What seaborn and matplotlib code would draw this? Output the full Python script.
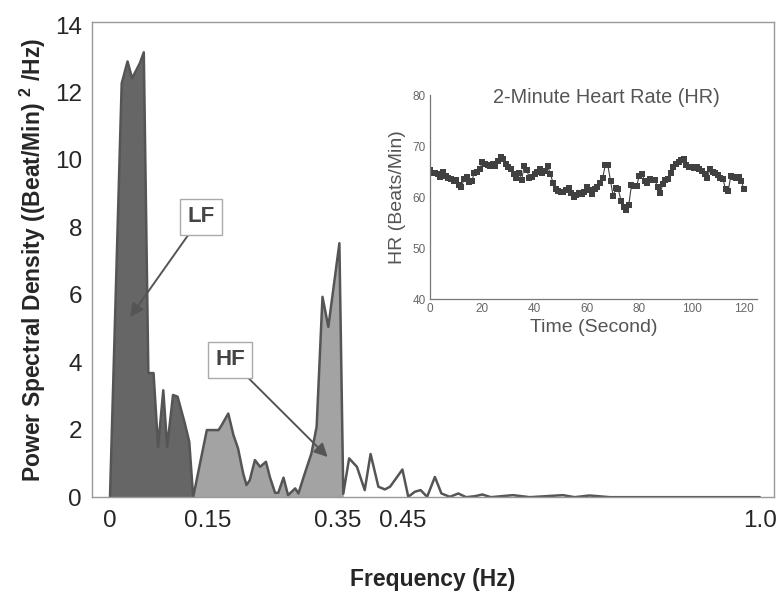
import numpy as np
import pandas as pd
import matplotlib
matplotlib.use("Agg")
import matplotlib.pyplot as plt
from matplotlib.ticker import MultipleLocator
import seaborn as sns

# 功率谱
freq_hz = [0.000, 0.018, 0.027, 0.034, 0.046, 0.052, 0.059, 0.067, 0.074, 0.082,
           0.088, 0.097, 0.104, 0.115, 0.122, 0.128,
           0.149, 0.167, 0.172, 0.182, 0.190, 0.197, 0.205, 0.210, 0.215, 0.223,
           0.231, 0.240, 0.246, 0.254, 0.259, 0.267, 0.274, 0.285, 0.290, 0.298,
           0.310, 0.318, 0.327, 0.336, 0.353, 0.359,
           0.368, 0.380, 0.392, 0.401, 0.413, 0.423, 0.431, 0.450, 0.459, 0.469,
           0.478, 0.488, 0.500, 0.510, 0.523, 0.536, 0.548, 0.562, 0.573, 0.586,
           0.620, 0.646, 0.697, 0.715, 0.738, 0.769, 1.000]
psd = [0.0, 12.27, 12.92, 12.42, 12.87, 13.19, 3.68, 3.68, 1.49, 3.17,
       1.49, 3.03, 2.98, 2.20, 1.64, 0.0,
       1.99, 1.99, 2.14, 2.48, 1.84, 1.45, 0.70, 0.36, 0.50, 1.10,
       0.90, 1.05, 0.60, 0.13, 0.13, 0.58, 0.06, 0.26, 0.11, 0.60,
       1.30, 2.09, 5.94, 5.05, 7.53, 0.10,
       1.15, 0.90, 0.21, 1.28, 0.31, 0.23, 0.31, 0.82, 0.01, 0.16,
       0.21, 0.01, 0.60, 0.11, 0.01, 0.11, 0.0, 0.03, 0.08, 0.0,
       0.06, 0.0, 0.06, 0.0, 0.05, 0.0, 0.0]
lf_edge = 0.128
hf_edge = 0.359

freq_ticks = [0, 0.15, 0.35, 0.45, 1.0]
freq_tick_labels = ["0", "0.15", "0.35", "0.45", "1.0"]

# 2分钟心率
hr_time = list(range(121))
hr_bpm = [65.3, 64.8, 64.7, 64.5, 64.0, 65.0, 64.2, 63.8, 63.5, 63.2,
          63.3, 62.3, 62.0, 63.5, 64.0, 63.0, 63.2, 64.8, 65.0, 65.5,
          66.8, 66.5, 66.3, 66.0, 66.5, 66.0, 67.0, 67.8, 67.5, 66.5,
          65.8, 65.5, 64.5, 63.8, 64.8, 63.3, 66.0, 65.3, 63.7, 64.0,
          64.5, 65.0, 65.5, 64.8, 65.2, 66.0, 64.6, 62.8, 61.5, 61.2,
          61.0, 61.0, 61.3, 61.8, 60.8, 60.0, 60.3, 60.8, 60.6, 61.0,
          62.0, 61.3, 60.5, 61.5, 62.0, 62.8, 63.8, 66.2, 66.2, 63.2,
          60.2, 61.8, 61.5, 59.3, 58.0, 57.4, 58.5, 62.3, 62.2, 62.2,
          64.2, 64.6, 63.2, 62.8, 63.5, 63.3, 63.3, 62.0, 60.8, 62.5,
          63.3, 63.5, 64.8, 65.8, 66.5, 66.8, 67.3, 67.5, 66.3, 65.8,
          65.8, 65.6, 65.8, 65.5, 65.2, 64.5, 63.7, 65.5, 65.0, 64.8,
          64.3, 63.8, 63.5, 61.5, 61.2, 64.2, 64.0, 63.8, 64.0, 63.2,
          61.5]

sns.set_style("white")
plt.rcParams["font.family"] = ["Liberation Sans", "DejaVu Sans"]
plt.rcParams["mathtext.fontset"] = "custom"
plt.rcParams["mathtext.rm"] = "Liberation Sans"
plt.rcParams["mathtext.bf"] = "Liberation Sans:bold"

spec = pd.DataFrame({"freq": freq_hz, "psd": psd})
hr = pd.DataFrame({"t": hr_time, "hr": hr_bpm})

fig = plt.figure(figsize=(7.78, 5.94), dpi=100)
ax = fig.add_axes([0.118, 0.163, 0.877, 0.800])

f = spec["freq"].values
p = spec["psd"].values
ax.fill_between(f, 0, p, where=f <= lf_edge, color="#666666", lw=0)
ax.fill_between(f, 0, p, where=(f >= lf_edge) & (f <= hf_edge), color="#a3a3a3", lw=0)
sns.lineplot(data=spec, x="freq", y="psd", ax=ax, color="#555555", lw=1.8,
             estimator=None, sort=False)

ax.set_xlim(-0.028, 1.022)
ax.set_ylim(0, 14.09)
ax.set_xticks(freq_ticks)
ax.set_xticklabels(freq_tick_labels)
ax.set_yticks(range(0, 15, 2))
ax.yaxis.set_minor_locator(MultipleLocator(1))
ax.tick_params(axis="x", length=0, pad=9, labelsize=17.5)
ax.tick_params(axis="y", which="both", direction="in", length=5, width=0.8,
               color="#888888", pad=7, labelsize=17.5)
for s in ax.spines.values():
    s.set_color("#999999")
    s.set_linewidth(1.0)
ax.set_xlabel("Frequency (Hz)", fontsize=16.5, fontweight="bold", labelpad=26)
ax.set_ylabel(r"Power Spectral Density ((Beat/Min) $^{\mathbf{2}}$ /Hz)",
              fontsize=16.5, fontweight="bold")
ax.yaxis.set_label_coords(-0.064, 0.5)

box = dict(boxstyle="square,pad=0.32", fc="white", ec="#aaaaaa", lw=1)
arrow = dict(arrowstyle="-|>", color="#555555", lw=1.4, mutation_scale=20,
             shrinkA=0, shrinkB=0)
ax.annotate("LF", xy=(0.031, 5.34), xytext=(0.140, 8.31), ha="center", va="center",
            fontsize=16, fontweight="bold", color="#444444", bbox=box, arrowprops=arrow)
ax.annotate("HF", xy=(0.335, 1.19), xytext=(0.185, 4.07), ha="center", va="center",
            fontsize=16, fontweight="bold", color="#444444", bbox=box, arrowprops=arrow)

# 插图：心率
ax_in = fig.add_axes([0.5527, 0.4966, 0.4203, 0.3434])
sns.lineplot(data=hr, x="t", y="hr", ax=ax_in, color="#404040", lw=0.8,
             marker="s", markersize=4, markeredgewidth=0, estimator=None)
ax_in.set_xlim(0, 125)
ax_in.set_ylim(40, 80)
ax_in.set_xticks(range(0, 121, 20))
ax_in.set_yticks(range(40, 81, 10))
ax_in.xaxis.set_minor_locator(MultipleLocator(10))
ax_in.yaxis.set_minor_locator(MultipleLocator(5))
ax_in.tick_params(which="both", direction="in", length=3, width=0.7,
                  color="#777777", labelsize=8.5, labelcolor="#666666", pad=3)
for side in ["top", "right"]:
    ax_in.spines[side].set_visible(False)
for side in ["left", "bottom"]:
    ax_in.spines[side].set_color("#777777")
    ax_in.spines[side].set_linewidth(0.9)
ax_in.set_xlabel("Time (Second)", fontsize=14, color="#555555", labelpad=3)
ax_in.set_ylabel("HR (Beats/Min)", fontsize=14, color="#555555", labelpad=5)
ax_in.text(0.54, 0.99, "2-Minute Heart Rate (HR)", transform=ax_in.transAxes,
           ha="center", va="center", fontsize=14.3, color="#555555")
ax_in.patch.set_alpha(0)

fig.savefig("out.png", dpi=100)
